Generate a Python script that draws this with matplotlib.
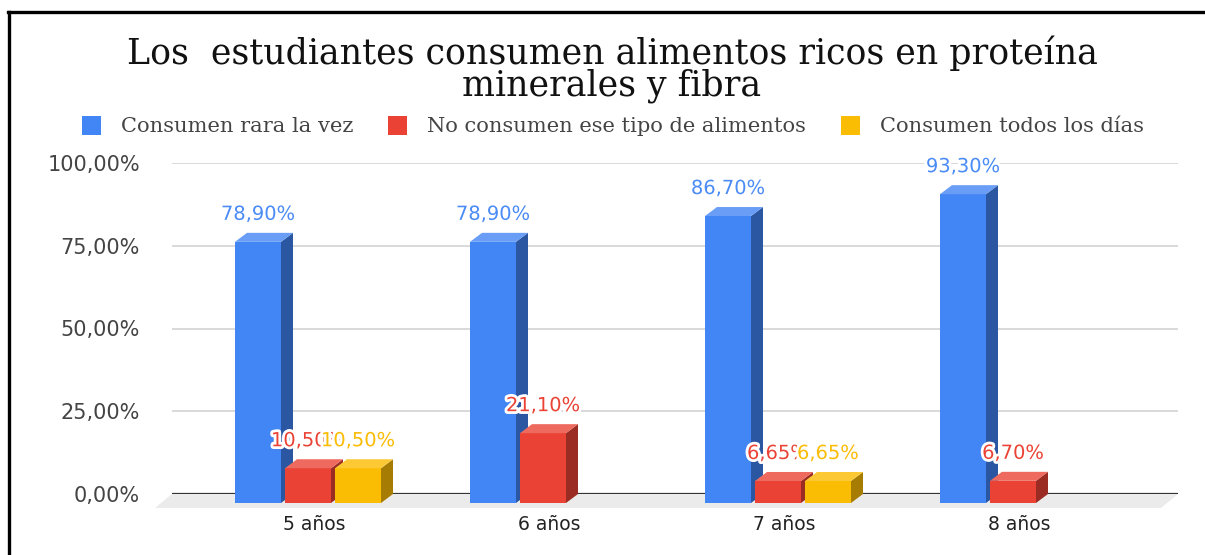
import numpy as np
import matplotlib
matplotlib.use("Agg")
import matplotlib.pyplot as plt
from matplotlib.patches import Polygon, Patch
from matplotlib.lines import Line2D
import matplotlib.patheffects as pe

# ---------------- data ----------------
categories = ["5 años", "6 años", "7 años", "8 años"]
series_names = ["Consumen rara la vez", "No consumen ese tipo de alimentos", "Consumen todos los días"]
rara_vez = [78.90, 78.90, 86.70, 93.30]
no_consumen = [10.50, 21.10, 6.65, 6.70]
todos_dias = [10.50, np.nan, 6.65, np.nan]
value_labels_rara = ["78,90%", "78,90%", "86,70%", "93,30%"]
value_labels_no = ["10,50%", "21,10%", "6,65%", "6,70%"]
value_labels_todos = ["10,50%", "", "6,65%", ""]
yticks = [0, 25, 50, 75, 100]
ytick_labels = ["0,00%", "25,00%", "50,00%", "75,00%", "100,00%"]
title = "Los  estudiantes consumen alimentos ricos en proteína\nminerales y fibra"

# ---------------- styles ----------------
front_cols = ["#4285F4", "#EA4335", "#FBBC04"]
side_cols = ["#2B57A2", "#9B2C23", "#A67C02"]
top_cols = ["#6A9EF6", "#EE6A5E", "#FCC934"]
label_cols = ["#4A8BF5", "#EA4335", "#FBBC04"]

W, H = 1205, 555
fig = plt.figure(figsize=(W / 100, H / 100), dpi=100)
fig.patch.set_facecolor("white")

ax_l, ax_r, ax_t, ax_b = 172, 1178, 163, 494
ax = fig.add_axes([ax_l / W, (H - ax_b) / H, (ax_r - ax_l) / W, (ax_b - ax_t) / H])
px_per_cat = 235.0
xmin = -(308 - ax_l) / px_per_cat
xmax = xmin + (ax_r - ax_l) / px_per_cat
ax.set_xlim(xmin, xmax)
ax.set_ylim(0, 100)
py = (ax_b - ax_t) / 100.0  # pixels per y unit

dx = 12 / px_per_cat
dy = 9 / py
bw = 46 / px_per_cat
offsets = [-50 / px_per_cat, 0.0, 50 / px_per_cat]

for s in ax.spines.values():
    s.set_visible(False)

# gridlines
for yt in yticks[1:]:
    ax.axhline(yt, color="#D0D0D0", lw=1.1, zorder=0.5)

# floor
fdx, fdy = 17 / px_per_cat, 14 / py
floor = Polygon([(xmin, 0), (xmax, 0), (xmax - fdx, -fdy), (xmin - fdx, -fdy)],
                closed=True, facecolor="#EBEBEB", edgecolor="none", zorder=1, clip_on=False)
ax.add_patch(floor)
ax.plot([xmin, xmax], [0, 0], color="#333333", lw=1.6, zorder=2, solid_capstyle="butt")

all_series = [rara_vez, no_consumen, todos_dias]
all_labels = [value_labels_rara, value_labels_no, value_labels_todos]
halo = [pe.withStroke(linewidth=4, foreground="white")]
z = 3
for i in range(len(categories)):
    for k, vals in enumerate(all_series):
        v = vals[i]
        if v is None or np.isnan(v):
            continue
        xc = i + offsets[k]
        xl, xr = xc - bw / 2, xc + bw / 2
        # front face
        ax.bar(xc, v, width=bw, bottom=-dy, color=front_cols[k], zorder=z, clip_on=False,
               linewidth=0)
        # side face
        ax.add_patch(Polygon([(xr, -dy), (xr + dx, 0), (xr + dx, v), (xr, v - dy)], closed=True,
                             facecolor=side_cols[k], edgecolor="none", zorder=z, clip_on=False))
        # top face
        ax.add_patch(Polygon([(xl, v - dy), (xl + dx, v), (xr + dx, v), (xr, v - dy)], closed=True,
                             facecolor=top_cols[k], edgecolor="none", zorder=z, clip_on=False))
        z += 0.1

for k, vals in enumerate(all_series):
    for i, v in enumerate(vals):
        if v is None or np.isnan(v):
            continue
        t = ax.text(i + offsets[k], v + 18.5 / py, all_labels[k][i], ha="center", va="center",
                    fontsize=14, color=label_cols[k], zorder=20 + k, family="DejaVu Sans")
        t.set_path_effects(halo)

ax.set_yticks(yticks)
ax.set_yticklabels(ytick_labels)
ax.set_xticks([i + dx / 2 for i in range(len(categories))])
ax.set_xticklabels(categories)
ax.tick_params(axis="y", length=0, pad=23, labelsize=15, labelcolor="#444444")
ax.tick_params(axis="x", length=0, pad=15, labelsize=13.5, labelcolor="#222222")

# title
fig.text(612 / W, 1 - 69 / H, title, ha="center", va="center", fontsize=25,
         family="DejaVu Serif", color="#111111", linespacing=0.9)

# legend
handles = [Patch(facecolor=c, edgecolor="none") for c in front_cols]
leg = fig.legend(handles, series_names, loc="center", bbox_to_anchor=(613 / W, 1 - 126 / H),
                 ncol=3, frameon=False, prop={"family": "DejaVu Serif", "size": 15.1},
                 handlelength=0.92, handleheight=1.05, handletextpad=0.95, columnspacing=1.65)
for txt in leg.get_texts():
    txt.set_color("#444444")

# frame (top and left border)
fig.add_artist(Line2D([8 / W, 1.0], [1 - 12 / H, 1 - 12 / H], color="black", lw=2.4,
                      transform=fig.transFigure))
fig.add_artist(Line2D([9 / W, 9 / W], [1 - 12 / H, 0], color="black", lw=2.4,
                      transform=fig.transFigure))

fig.savefig("out.png", dpi=100, facecolor="white")
